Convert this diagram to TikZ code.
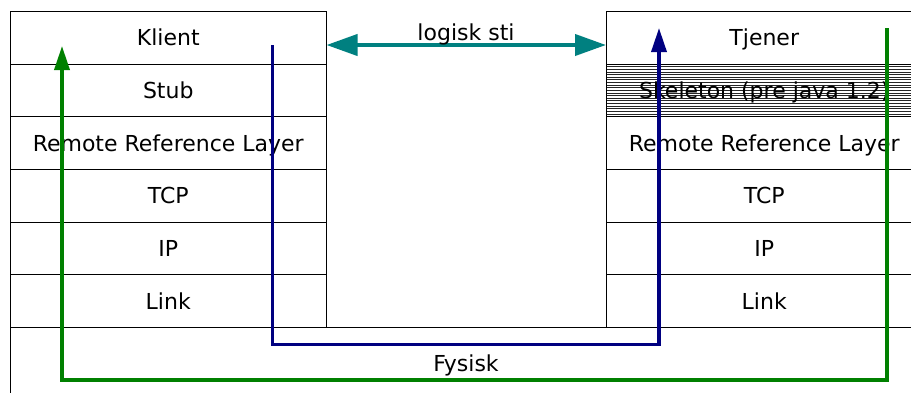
\documentclass[tikz,border=0pt]{standalone}
\usepackage{fontspec}
\setmainfont{DejaVu Sans}
\usetikzlibrary{arrows.meta}
\definecolor{navyline}{RGB}{0,0,128}
\definecolor{greenline}{RGB}{0,128,0}
\definecolor{tealline}{RGB}{0,128,128}
\begin{document}
\begin{tikzpicture}[x=1pt,y=-1pt,
  txt/.style={font=\fontsize{22}{26}\selectfont, text height=15.7pt, text depth=0pt, inner sep=0pt},
  layer/.style={txt, draw=black, line width=1pt, rectangle, minimum width=315.5pt,
    minimum height=52.67pt, anchor=north west},
  hatched/.style={path picture={
    \foreach \i in {0,...,20}{
      \draw[line width=0.9pt, black!85]
        ([yshift=-\i*2.62pt]path picture bounding box.north west) --
        ([yshift=-\i*2.62pt]path picture bounding box.north east);}}},
  route/.style={line width=3.5pt, -{Triangle[length=24pt,width=15pt]}},
  logic/.style={line width=4pt, tealline,
    {Triangle[length=31pt,width=21pt]}-{Triangle[length=31pt,width=21pt]}}
]
\useasboundingbox (0,0) rectangle (911,392);
\clip (0,0) rectangle (911,392);

% client stack
\node[layer] (klient) at (10,11)     {Klient};
\node[layer] (stub)   at (10,63.67)  {Stub};
\node[layer] (rrlK)   at (10,116.33) {Remote Reference Layer};
\node[layer] (tcpK)   at (10,169)    {TCP};
\node[layer] (ipK)    at (10,221.67) {IP};
\node[layer] (linkK)  at (10,274.33) {Link};

% server stack
\node[layer] (tjener) at (606,11)     {Tjener};
\node[layer, hatched] (skel) at (606,63.67) {Skeleton (pre java 1.2)};
\node[layer] (rrlT)   at (606,116.33) {Remote Reference Layer};
\node[layer] (tcpT)   at (606,169)    {TCP};
\node[layer] (ipT)    at (606,221.67) {IP};
\node[layer] (linkT)  at (606,274.33) {Link};

% shared physical layer
\node[txt, draw=black, line width=1pt, rectangle, minimum width=911pt,
  minimum height=72pt, anchor=north west] (fysisk) at (10,327) {Fysisk};

% logical path between the two top layers
\coordinate (logY) at (0,45);
\draw[logic] (klient.east |- logY) -- (tjener.west |- logY);
\node[txt] (logisk) at (466,32.5) {logisk sti};

% request path: down the client stack, across, up the server stack
\coordinate (reqStart) at (272.5,45);
\coordinate (reqBotL)  at (272.5,344.5);
\coordinate (reqBotR)  at (659,344.5);
\coordinate (reqEnd)   at (659,28);
\draw[route, navyline] (reqStart) -- (reqBotL) -- (reqBotR) -- (reqEnd);

% reply path: down the server stack, across, up the client stack
\coordinate (repStart) at (887,28);
\coordinate (repBotR)  at (887,380);
\coordinate (repBotL)  at (62,380);
\coordinate (repEnd)   at (62,46);
\draw[route, greenline] (repStart) -- (repBotR) -- (repBotL) -- (repEnd);
\end{tikzpicture}
\end{document}
